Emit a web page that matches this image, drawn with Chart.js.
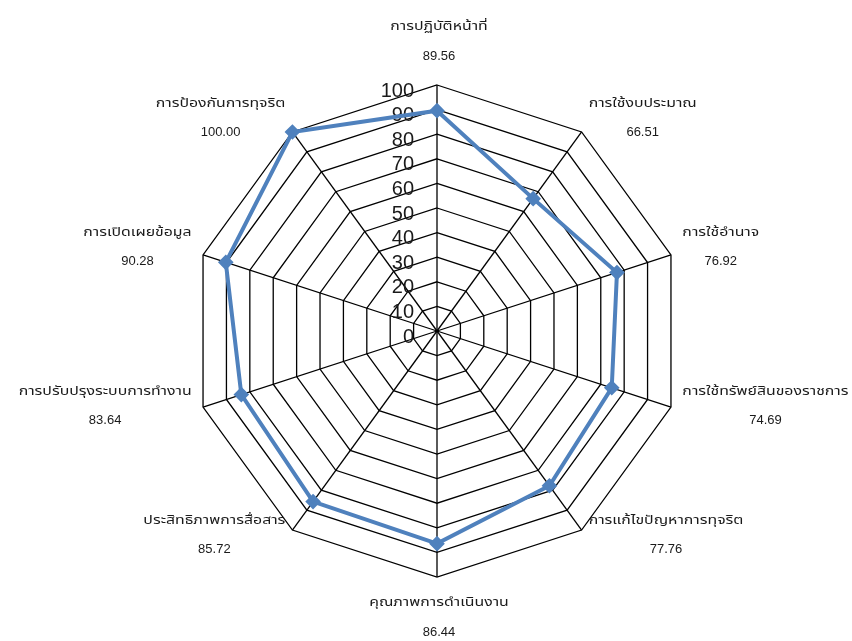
<!DOCTYPE html>
<html>
<head>
<meta charset="utf-8">
<script src="https://cdn.jsdelivr.net/npm/chart.js@4.4.0/dist/chart.umd.min.js"></script>
<style>
html,body{margin:0;padding:0;background:#fff;}
#wrap{width:852px;height:641px;position:relative;}
</style>
</head>
<body>
<div id="wrap"><canvas id="c" width="852" height="641"></canvas></div>
<script>
const categories = [
  "การปฏิบัติหน้าที่",
  "การใช้งบประมาณ",
  "การใช้อำนาจ",
  "การใช้ทรัพย์สินของราชการ",
  "การแก้ไขปัญหาการทุจริต",
  "คุณภาพการดำเนินงาน",
  "ประสิทธิภาพการสื่อสาร",
  "การปรับปรุงระบบการทำงาน",
  "การเปิดเผยข้อมูล",
  "การป้องกันการทุจริต"
];
const scores = [89.56, 66.51, 76.92, 74.69, 77.76, 86.44, 85.72, 83.64, 90.28, 100.00];
const tickValues = [0, 10, 20, 30, 40, 50, 60, 70, 80, 90, 100];

const THAI_FONT = '"Noto Sans Thai", "Noto Sans Thai UI", Tahoma, "Noto Sans", sans-serif';
const NAME_SX = 1.32;

const labelPlugin = {
  id: 'customLabels',
  beforeDatasetsDraw(chart) {
    const s = chart.scales.r;
    const ctx = chart.ctx;
    ctx.save();
    ctx.fillStyle = '#1a1a1a';
    ctx.font = '20px "Liberation Sans", Arial, sans-serif';
    ctx.textAlign = 'right';
    ctx.textBaseline = 'middle';
    tickValues.forEach(v => {
      const d = s.getDistanceFromCenterForValue(v);
      ctx.fillText(String(v), s.xCenter - 23, s.yCenter - d + 6);
    });
    ctx.restore();
  },
  afterDraw(chart) {
    const s = chart.scales.r;
    const ctx = chart.ctx;
    ctx.save();
    ctx.fillStyle = '#1a1a1a';
    ctx.textBaseline = 'middle';
    ctx.textAlign = 'center';
    const n = categories.length;
    const gap = 28;
    const nameFont = '12px ' + THAI_FONT;
    const valFont = '13px "Liberation Sans", Arial, sans-serif';
    categories.forEach((name, i) => {
      const val = scores[i].toFixed(2);
      const p = s.getPointPosition(i, s.drawingArea + 12);
      ctx.font = nameFont;
      const wn = ctx.measureText(name).width * NAME_SX;
      ctx.font = valFont;
      const wv = ctx.measureText(val).width;
      const w = Math.max(wn, wv);
      let cx, cy;
      if (i === 0) {
        cx = p.x + 2; cy = p.y - 31;
      } else if (i === n / 2) {
        cx = p.x + 2; cy = p.y + 29;
      } else if (i < n / 2) {
        cx = p.x + w / 2; cy = p.y - 4;
      } else {
        cx = p.x - w / 2; cy = p.y - 4;
      }
      ctx.save();
      ctx.font = nameFont;
      ctx.translate(cx, cy - gap / 2);
      ctx.scale(NAME_SX, 1);
      ctx.fillText(name, 0, 0);
      ctx.restore();
      ctx.font = valFont;
      ctx.fillText(val, cx, cy + gap / 2);
    });
    ctx.restore();
  }
};

new Chart(document.getElementById('c'), {
  type: 'radar',
  data: {
    labels: categories,
    datasets: [{
      data: scores,
      borderColor: '#4F81BD',
      backgroundColor: 'rgba(0,0,0,0)',
      borderWidth: 4,
      pointStyle: 'rectRot',
      pointRadius: 5,
      pointBackgroundColor: '#4F81BD',
      pointBorderColor: '#4F81BD',
      fill: false,
      tension: 0
    }]
  },
  options: {
    responsive: false,
    animation: false,
    devicePixelRatio: 1,
    layout: { padding: { top: 85, bottom: 64, left: 191, right: 169 } },
    plugins: { legend: { display: false }, tooltip: { enabled: false } },
    scales: {
      r: {
        min: 0, max: 100,
        ticks: { display: false, stepSize: 10 },
        pointLabels: { display: false },
        grid: { color: '#000', lineWidth: 1.3 },
        angleLines: { color: '#000', lineWidth: 1.3 }
      }
    }
  },
  plugins: [labelPlugin]
});
</script>
</body>
</html>
